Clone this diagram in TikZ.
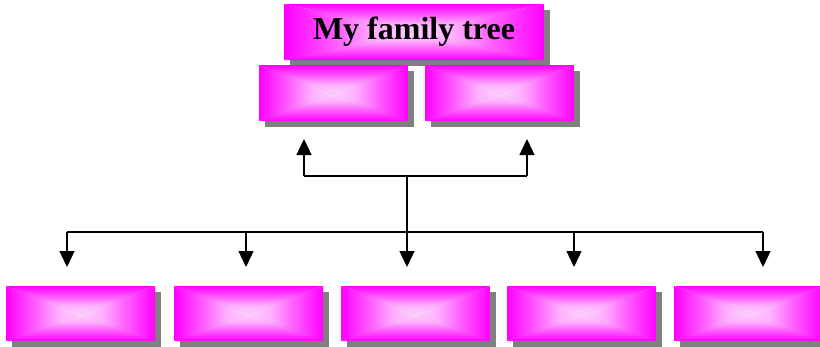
\documentclass[tikz,border=0pt]{standalone}
\usepackage{fontspec}
\setmainfont{Liberation Serif}
\usetikzlibrary{shadows,arrows.meta}
\definecolor{edgemag}{RGB}{255,0,255}
\definecolor{mag2}{RGB}{255,95,255}
\definecolor{mag3}{RGB}{255,175,255}
\definecolor{midpink}{RGB}{255,212,255}
\definecolor{shadowgray}{RGB}{128,128,128}
% vertical: 0bp = bottom, 100bp = top
\pgfdeclareverticalshading{edgeTop}{100bp}{color(0bp)=(midpink); color(25bp)=(midpink); color(40bp)=(mag3); color(55bp)=(mag2); color(75bp)=(edgemag); color(100bp)=(edgemag)}
\pgfdeclareverticalshading{edgeBottom}{100bp}{color(0bp)=(edgemag); color(25bp)=(edgemag); color(45bp)=(mag2); color(60bp)=(mag3); color(75bp)=(midpink); color(100bp)=(midpink)}
% horizontal: 0bp = left, 100bp = right
\pgfdeclarehorizontalshading{edgeLeft}{100bp}{color(0bp)=(edgemag); color(25bp)=(edgemag); color(45bp)=(mag2); color(60bp)=(mag3); color(75bp)=(midpink); color(100bp)=(midpink)}
\pgfdeclarehorizontalshading{edgeRight}{100bp}{color(0bp)=(midpink); color(25bp)=(midpink); color(40bp)=(mag3); color(55bp)=(mag2); color(75bp)=(edgemag); color(100bp)=(edgemag)}
\tikzset{
  famBox/.style={
    rectangle, inner sep=0pt, minimum width=149pt, minimum height=56pt,
    general shadow={fill=shadowgray, shadow xshift=6pt, shadow yshift=-6pt},
    path picture={
      \begin{scope}
        \clip (path picture bounding box.north west) -- (path picture bounding box.north east) -- (path picture bounding box.center) -- cycle;
        \shade[shading=edgeTop] (path picture bounding box.north west) rectangle (path picture bounding box.east);
      \end{scope}
      \begin{scope}
        \clip (path picture bounding box.south west) -- (path picture bounding box.south east) -- (path picture bounding box.center) -- cycle;
        \shade[shading=edgeBottom] (path picture bounding box.south west) rectangle (path picture bounding box.east);
      \end{scope}
      \begin{scope}
        \clip (path picture bounding box.north west) -- (path picture bounding box.south west) -- (path picture bounding box.center) -- cycle;
        \shade[shading=edgeLeft] (path picture bounding box.north west) rectangle (path picture bounding box.south);
      \end{scope}
      \begin{scope}
        \clip (path picture bounding box.north east) -- (path picture bounding box.south east) -- (path picture bounding box.center) -- cycle;
        \shade[shading=edgeRight] (path picture bounding box.north east) rectangle (path picture bounding box.south);
      \end{scope}
    }
  },
  link/.style={line width=1.3pt, black},
  arrowLink/.style={link, -{Triangle[width=15pt,length=16pt]}},
}
\begin{document}
\begin{tikzpicture}[x=1pt,y=-1pt]
\useasboundingbox (0,0) rectangle (820,346);
\fill[white] (0,0) rectangle (820,346);
% title
\node[famBox, minimum width=260pt, font=\fontsize{32}{36}\selectfont\bfseries] (title) at (414,32) {My family tree};
% parents
\node[famBox] (p1) at (333.5,93) {};
\node[famBox] (p2) at (499.5,93) {};
% children
\node[famBox, minimum height=55pt] (c1) at (80.5,313.5) {};
\node[famBox, minimum height=55pt] (c2) at (248.5,313.5) {};
\node[famBox, minimum height=55pt] (c3) at (415.5,313.5) {};
\node[famBox, minimum height=55pt] (c4) at (581.5,313.5) {};
\node[famBox, minimum height=55pt] (c5) at (748.5,313.5) {};
% junction coordinates
\coordinate (up) at (407,176);
\coordinate (low) at (407,232);
\coordinate (ul) at (304,176);
\coordinate (ur) at (527,176);
\coordinate (ult) at (304,139);
\coordinate (urt) at (527,139);
\coordinate (d1) at (67,232);
\coordinate (d2) at (246,232);
\coordinate (d3) at (407,232);
\coordinate (d4) at (574,232);
\coordinate (d5) at (763,232);
\coordinate (t1) at (67,267);
\coordinate (t2) at (246,267);
\coordinate (t3) at (407,267);
\coordinate (t4) at (574,267);
\coordinate (t5) at (763,267);
% connectors
\draw[link] (low) -- (up);
\draw[link] (ul) -- (ur);
\draw[arrowLink] (ul) -- (ult);
\draw[arrowLink] (ur) -- (urt);
\draw[link] (d1) -- (d5);
\draw[arrowLink] (d1) -- (t1);
\draw[arrowLink] (d2) -- (t2);
\draw[arrowLink] (d3) -- (t3);
\draw[arrowLink] (d4) -- (t4);
\draw[arrowLink] (d5) -- (t5);
\end{tikzpicture}
\end{document}
